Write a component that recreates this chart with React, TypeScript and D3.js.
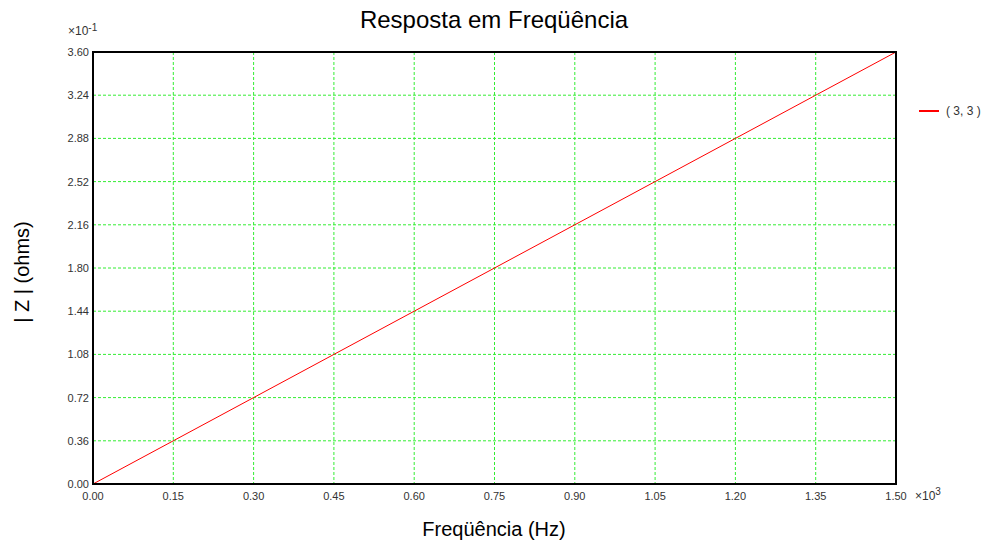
import React from "react";
import * as d3 from "d3";

const xTicks = [0, 0.15, 0.3, 0.45, 0.6, 0.75, 0.9, 1.05, 1.2, 1.35, 1.5];
const yTicks = [0, 0.36, 0.72, 1.08, 1.44, 1.8, 2.16, 2.52, 2.88, 3.24, 3.6];
const freqK = [0, 0.15, 0.3, 0.45, 0.6, 0.75, 0.9, 1.05, 1.2, 1.35, 1.5];
const zVals = [0, 0.36, 0.72, 1.08, 1.44, 1.8, 2.16, 2.52, 2.88, 3.24, 3.6];
const seriesName = "( 3, 3 )";

export default function App() {
  const W = 982, H = 542;
  const L = 93, R = 896, T = 52, B = 484;
  const x = d3.scaleLinear().domain([0, 1.5]).range([L, R]);
  const y = d3.scaleLinear().domain([0, 3.6]).range([B, T]);
  const line = d3.line<number>().x((_, i) => x(freqK[i])).y((d) => y(d));
  const font = "'Liberation Sans', Arial, sans-serif";
  return (
    <svg width={W} height={H} style={{ position: "absolute", left: 0, top: 0, background: "#fff" }} fontFamily={font}>
      <rect x={0} y={0} width={W} height={H} fill="#fff" />
      <text x={494} y={28} textAnchor="middle" fontSize={24}>Resposta em Freqüência</text>
      {xTicks.slice(1, -1).map((t) => (
        <line key={"gx" + t} x1={x(t)} x2={x(t)} y1={T} y2={B} stroke="#33ee33" strokeDasharray="3,2" strokeWidth={1} />
      ))}
      {yTicks.slice(1, -1).map((t) => (
        <line key={"gy" + t} x1={L} x2={R} y1={y(t)} y2={y(t)} stroke="#33ee33" strokeDasharray="3,2" strokeWidth={1} />
      ))}
      <path d={line(zVals) || ""} fill="none" stroke="#ff0000" strokeWidth={1} />
      <rect x={L} y={T} width={R - L} height={B - T} fill="none" stroke="#000" strokeWidth={2} />
      {yTicks.map((t) => (
        <text key={"yl" + t} x={L - 4} y={y(t) + 4} textAnchor="end" fontSize={11} fill="#333">{t.toFixed(2)}</text>
      ))}
      {xTicks.map((t) => (
        <text key={"xl" + t} x={x(t)} y={500} textAnchor="middle" fontSize={11} fill="#333">{t.toFixed(2)}</text>
      ))}
      <text x={68} y={35} fontSize={12} fill="#333">×10<tspan fontSize={10} dy={-4}>-1</tspan></text>
      <text x={915} y={500} fontSize={12} fill="#333">×10<tspan fontSize={10} dy={-5}>3</tspan></text>
      <text x={494} y={536} textAnchor="middle" fontSize={20}>Freqüência (Hz)</text>
      <text transform="translate(29,272) rotate(-90)" textAnchor="middle" fontSize={20}>| Z | (ohms)</text>
      <line x1={919} x2={939} y1={111} y2={111} stroke="#ff0000" strokeWidth={2} />
      <text x={946} y={115} fontSize={12} fill="#333">{seriesName}</text>
    </svg>
  );
}
